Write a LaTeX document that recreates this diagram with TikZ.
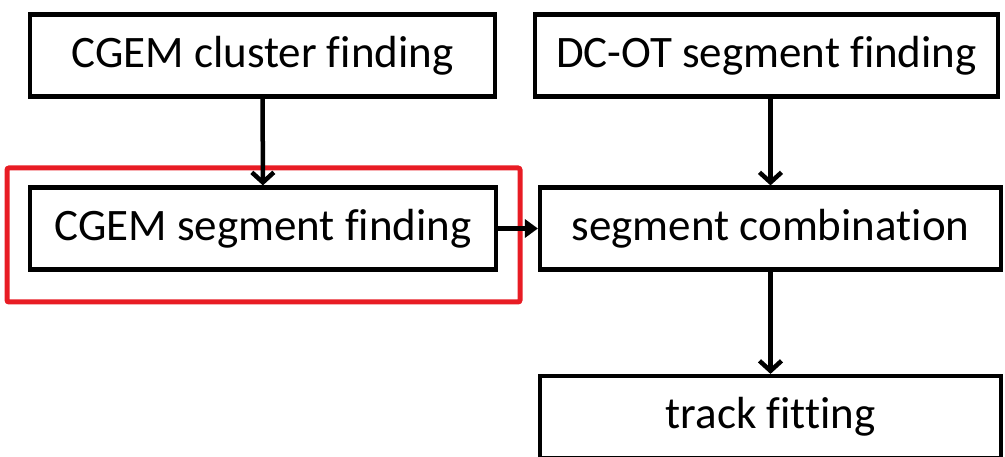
\documentclass[tikz,border=0pt]{standalone}
\usepackage{fontspec}
\setmainfont[Ligatures=NoCommon]{Carlito}
\usepackage{tikz}
\usetikzlibrary{positioning,arrows.meta,calc}
\usepackage{xcolor}
\definecolor{hlred}{RGB}{232,28,36}
\tikzset{
  stagebox/.style={draw=black,line width=4.2pt,fill=white,minimum height=82pt,
    inner sep=0pt,font=\fontsize{45}{52}\selectfont},
  flowdown/.style={line width=4.5pt,-{Straight Barb[length=10pt,width=22pt,line width=4.5pt]}},
  flowright/.style={line width=4.5pt,-{Triangle[length=13pt,width=18pt]}},
}

\begin{document}
\begin{tikzpicture}[x=1pt,y=-1pt]
\useasboundingbox (0,0) rectangle (1005,457);
% left column: CGEM
\node[stagebox,minimum width=465pt] (cgemclu) at (262.5,55.5) {CGEM cluster finding};
\node[stagebox,minimum width=466pt] (cgemseg) at (263,228.5) {CGEM segment finding};
% right column: DC-OT
\node[stagebox,minimum width=463pt] (dcotseg) at (766.5,55.5) {DC-OT segment finding};
\node[stagebox,minimum width=461pt] (segcomb) at (770.5,228.5) {segment combination};
\node[stagebox,minimum width=461pt] (trkfit) at (770.5,417) {track fitting};
% highlight round the CGEM segment step
\draw[hlred,line width=5pt,rounded corners=2pt] (7,168) rectangle (520,302);
\draw[flowdown] (cgemclu) -- (cgemseg);
\draw[flowdown] (dcotseg.south -| segcomb.north) -- (segcomb.north);
\draw[flowdown] (segcomb) -- (trkfit);
\draw[flowright] (cgemseg) -- (segcomb);
\end{tikzpicture}
\end{document}
